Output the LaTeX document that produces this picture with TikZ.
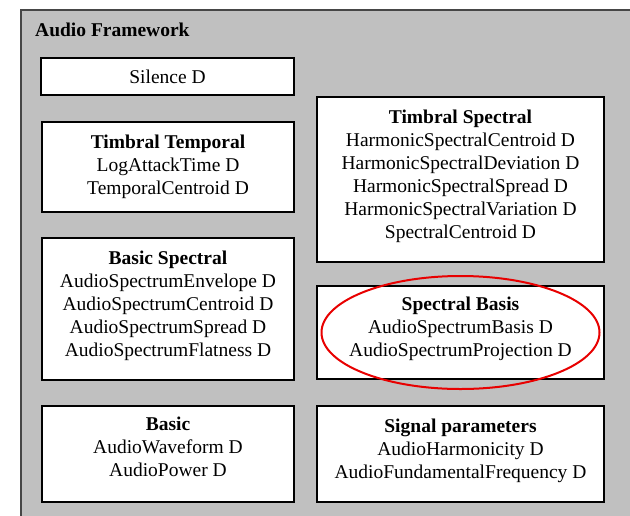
\documentclass[tikz,border=0pt]{standalone}
\usepackage{fontspec}
\setmainfont{Liberation Serif}
\usetikzlibrary{positioning}
\definecolor{panelgray}{RGB}{192,192,192}
\definecolor{panelline}{RGB}{70,70,70}
\definecolor{ringred}{RGB}{232,0,0}

\begin{document}
\begin{tikzpicture}[x=1pt, y=-1pt,
    group/.style={draw, line width=1.8pt, fill=white, align=center, inner sep=0pt,
        font=\fontsize{19.5}{23}\selectfont},
    lifted/.style={text depth=11pt},
    leftgroup/.style={group, minimum width=252pt},
    rightgroup/.style={group, minimum width=287pt},
    ring/.style={draw=ringred, line width=2pt},
]
\useasboundingbox (0,0) rectangle (630,515);
\fill[white] (0,0) rectangle (630,515);

% framework panel
\draw[fill=panelgray, draw=panelline, line width=1.5pt] (21,10) rectangle (650,530);
\node[anchor=west, inner sep=0pt, font=\fontsize{19.5}{23}\selectfont\bfseries] (title) at (35,30) {Audio Framework};

% left column
\node[leftgroup, minimum width=253pt, minimum height=37pt] (silence) at (167.5,76.5) {Silence D};
\node[leftgroup, minimum height=90pt] (ttemporal) at (168,167) {\textbf{Timbral Temporal}\\LogAttackTime D\\TemporalCentroid D};
\node[leftgroup, lifted, minimum height=142pt] (bspectral) at (168,309) {\textbf{Basic Spectral}\\AudioSpectrumEnvelope D\\AudioSpectrumCentroid D\\AudioSpectrumSpread D\\AudioSpectrumFlatness D};
\node[leftgroup, lifted, text depth=15pt, minimum height=96pt] (basic) at (168,454) {\textbf{Basic}\\AudioWaveform D\\AudioPower D};

% right column
\node[rightgroup, lifted, minimum height=165pt] (tspectral) at (460.5,179.5) {\textbf{Timbral Spectral}\\HarmonicSpectralCentroid D\\HarmonicSpectralDeviation D\\HarmonicSpectralSpread D\\HarmonicSpectralVariation D\\SpectralCentroid D};
\node[rightgroup, lifted, minimum height=93pt] (sbasis) at (460.5,332.5) {\textbf{Spectral Basis}\\AudioSpectrumBasis D\\AudioSpectrumProjection D};
\node[rightgroup, lifted, minimum height=96pt] (signal) at (460.5,454) {\textbf{Signal parameters}\\AudioHarmonicity D\\AudioFundamentalFrequency D};

\draw[ring] (sbasis.center) ellipse [x radius=139pt, y radius=56.5pt];

\end{tikzpicture}
\end{document}
